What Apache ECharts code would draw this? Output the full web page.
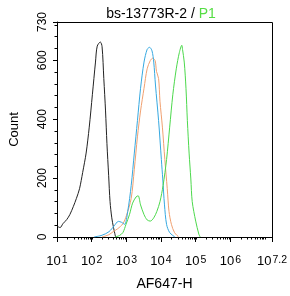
<!DOCTYPE html>
<html><head><meta charset="utf-8">
<script src="https://cdn.jsdelivr.net/npm/echarts@6/dist/echarts.min.js"></script>
<style>html,body{margin:0;padding:0;background:#fff}#c{width:290px;height:296px}</style>
</head><body><div id="c"></div>
<script>
// x values are log10(AF647-H), y values are counts
const xRange = [1, 7.2];
const yRange = [0, 730];
const xTickValues = [1, 2, 3, 4, 5, 6, 7.2];
const yTickValues = [0, 200, 400, 600, 730];
const blackData = [[1.0,37],[1.09,32],[1.17,45],[1.28,59],[1.37,76],[1.47,103],[1.56,131],[1.65,164],[1.74,219],[1.84,285],[1.93,373],[2.02,483],[2.11,594],[2.16,648],[2.25,662],[2.30,646],[2.35,538],[2.40,428],[2.44,318],[2.49,208],[2.53,120],[2.58,65],[2.63,32],[2.69,0]];
const blueData = [[2.07,0],[2.3,6],[2.5,18],[2.65,38],[2.77,53],[2.86,50],[2.95,43],[3.04,87],[3.14,175],[3.23,285],[3.32,395],[3.41,505],[3.51,594],[3.60,637],[3.67,644],[3.74,632],[3.79,594],[3.84,516],[3.93,395],[4.01,263],[4.05,197],[4.10,109],[4.16,43],[4.25,15],[4.40,0]];
const orangeData = [[2.30,0],[2.50,8],[2.62,18],[2.75,28],[2.90,45],[3.00,72],[3.14,131],[3.23,230],[3.32,340],[3.41,428],[3.51,505],[3.60,571],[3.69,599],[3.76,607],[3.83,599],[3.87,562],[3.93,538],[3.97,461],[4.04,373],[4.11,263],[4.18,164],[4.23,87],[4.30,43],[4.39,15],[4.51,0]];
const greenData = [[2.67,0],[2.80,5],[2.90,15],[2.99,43],[3.09,76],[3.18,115],[3.28,136],[3.34,140],[3.41,109],[3.51,76],[3.60,58],[3.69,54],[3.79,65],[3.88,87],[3.97,120],[4.06,175],[4.16,263],[4.25,373],[4.34,483],[4.44,571],[4.53,627],[4.60,651],[4.62,637],[4.67,594],[4.72,505],[4.76,395],[4.81,285],[4.86,197],[4.90,120],[5.00,54],[5.09,10],[5.13,0]];
const minorTickValues = [];
for (let d = 1; d <= 7; d++) for (let k = 2; k <= 10; k++) { const v = d + Math.log10(k); if (v < 7.2) minorTickValues.push(v); }

const FONT = 'Liberation Sans';
const chart = echarts.init(document.getElementById('c'), null, {renderer: 'canvas'});
const lineS = (data, color) => ({type: 'line', data, symbol: 'none', smooth: 0.3, lineStyle: {color, width: 1}, silent: true, animation: false, z: 3});
chart.setOption({
  animation: false,
  title: {
    text: '{a|bs-13773R-2 / }{g|P1}', left: 156, top: 2, textAlign: 'center',
    textStyle: {rich: {a: {fontFamily: FONT, fontSize: 14, fontWeight: 'normal', color: '#000'}, g: {fontFamily: FONT, fontSize: 14, fontWeight: 'normal', color: '#55dd44'}}}
  },
  grid: {left: 53, right: 14, top: 22, bottom: 53},
  xAxis: {
    type: 'value', min: xRange[0], max: xRange[1], interval: 1,
    name: 'AF647-H', nameLocation: 'middle', nameGap: 40,
    nameTextStyle: {fontFamily: FONT, fontSize: 14, color: '#000'},
    axisLine: {onZero: false, lineStyle: {color: '#000', width: 1}},
    axisTick: {length: 5, lineStyle: {color: '#000'}, customValues: xTickValues},
    splitLine: {show: false},
    axisLabel: {
      customValues: xTickValues, margin: 18,
      formatter: v => '{b|10}{s|' + (Math.round(v * 10) / 10) + '}',
      rich: {
        b: {fontFamily: FONT, fontSize: 13, lineHeight: 13, color: '#000', verticalAlign: 'bottom', padding: [5, 1, 0, 0]},
        s: {fontFamily: FONT, fontSize: 10.5, lineHeight: 10, color: '#000', verticalAlign: 'top'}
      }
    }
  },
  yAxis: {
    type: 'value', min: yRange[0], max: yRange[1], interval: 200,
    name: 'Count', nameLocation: 'middle', nameGap: 36, nameRotate: 90,
    nameTextStyle: {fontFamily: FONT, fontSize: 13, color: '#000'},
    axisLine: {show: true, onZero: false, lineStyle: {color: '#000', width: 1}},
    axisTick: {show: true, length: 4, lineStyle: {color: '#000'}, customValues: yTickValues},
    minorTick: {show: true, splitNumber: 5, length: 2.5, lineStyle: {color: '#000'}},
    splitLine: {show: false},
    axisLabel: {customValues: yTickValues, rotate: 90, margin: 8, fontFamily: FONT, fontSize: 12, color: '#000'}
  },
  series: [
    {
      type: 'custom', data: minorTickValues.map(v => [v, 0]), clip: false, silent: true, z: 1,
      renderItem: (params, api) => {
        const p = api.coord([api.value(0), 0]);
        return {type: 'line', shape: {x1: Math.round(p[0]) + 0.5, y1: p[1], x2: Math.round(p[0]) + 0.5, y2: p[1] + 2.5}, style: {stroke: '#000', lineWidth: 1}};
      }
    },
    {
      // plot frame (top and right edges) drawn through the axes' scales
      type: 'custom', data: [[xRange[1], yRange[1]]], clip: false, silent: true, z: 2,
      renderItem: (params, api) => {
        const tr = api.coord([api.value(0), api.value(1)]);
        const tl = api.coord([xRange[0], yRange[1]]);
        const br = api.coord([xRange[1], yRange[0]]);
        const cx = v => Math.round(v) + 0.5;
        return {type: 'polyline', shape: {points: [[tl[0], cx(tl[1])], [cx(tr[0]), cx(tr[1])], [cx(br[0]), br[1]]]}, style: {stroke: '#000', lineWidth: 1, fill: null}};
      }
    },
    lineS(blackData, '#222222'),
    lineS(orangeData, '#f0a070'),
    lineS(blueData, '#36a8e0'),
    lineS(greenData, '#4cd84c')
  ]
});
</script></body></html>
